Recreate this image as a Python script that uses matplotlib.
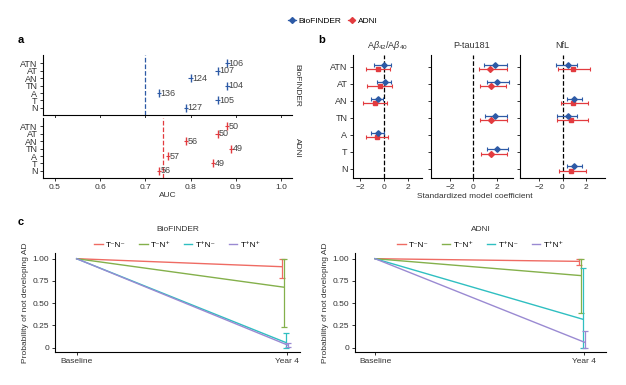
import numpy as np
import matplotlib
matplotlib.use("Agg")
import matplotlib.pyplot as plt
from matplotlib.lines import Line2D

plt.rcParams["font.family"] = ["Liberation Sans", "DejaVu Sans"]
plt.rcParams["font.size"] = 6
plt.rcParams["axes.linewidth"] = 0.8
plt.rcParams["xtick.major.size"] = 2.5
plt.rcParams["ytick.major.size"] = 2.5
plt.rcParams["xtick.color"] = "#333333"
plt.rcParams["ytick.color"] = "#333333"
plt.rcParams["mathtext.fontset"] = "custom"
plt.rcParams["mathtext.rm"] = "Liberation Sans"
plt.rcParams["mathtext.it"] = "Liberation Sans:italic"

W, H = 626, 385
BLUE = "#2d5aa6"
RED = "#e23b3f"
TXT = "#333333"
nan = np.nan

# === panel a : AUC ===
rows = ["ATN", "AT", "AN", "TN", "A", "T", "N"]
auc_bf = [0.881, 0.860, 0.800, 0.881, 0.730, 0.860, 0.790]
n_bf = [106, 107, 124, 104, 136, 105, 127]
auc_adni = [0.880, 0.860, 0.790, 0.890, 0.750, 0.850, 0.730]
n_adni = [50, 50, 56, 49, 57, 49, 56]
ref_bf, ref_adni = 0.70, 0.74

# === panel b : standardized coefficients (estimate, low, high) ===
ab_bf = [0.0, 0.08, -0.52, nan, -0.55, nan, nan]
ab_bf_lo = [-0.88, -0.60, -1.07, nan, -1.07, nan, nan]
ab_bf_hi = [0.58, 0.58, -0.05, nan, 0.0, nan, nan]
ab_adni = [-0.47, -0.38, -0.74, nan, -0.60, nan, nan]
ab_adni_lo = [-1.56, -1.48, -1.78, nan, -1.56, nan, nan]
ab_adni_hi = [0.49, 0.68, 0.27, nan, 0.33, nan, nan]

ptau_bf = [1.79, 2.0, nan, 1.79, nan, 2.0, nan]
ptau_bf_lo = [0.85, 1.15, nan, 1.0, nan, 1.15, nan]
ptau_bf_hi = [2.88, 3.0, nan, 2.85, nan, 2.93, nan]
ptau_adni = [1.41, 1.47, nan, 1.52, nan, 1.52, nan]
ptau_adni_lo = [0.48, 0.53, nan, 0.53, nan, 0.61, nan]
ptau_adni_hi = [2.88, 2.75, nan, 2.88, nan, 2.88, nan]

nfl_bf = [0.45, nan, 1.01, 0.45, nan, nan, 1.01]
nfl_bf_lo = [-0.54, nan, 0.42, -0.48, nan, nan, 0.42]
nfl_bf_hi = [1.21, nan, 1.69, 1.21, nan, nan, 1.69]
nfl_adni = [0.87, nan, 0.93, 0.73, nan, nan, 0.73]
nfl_adni_lo = [-0.39, nan, -0.14, -0.48, nan, nan, -0.28]
nfl_adni_hi = [2.34, nan, 2.14, 2.14, nan, nan, 1.97]

# === panel c : probability of not developing AD ===
groups = ["T\u207bN\u207b", "T\u207bN\u207a", "T\u207aN\u207b", "T\u207aN\u207a"]
group_colors = ["#ef6b63", "#84b04b", "#2fbfc1", "#9a8ad2"]
bf_y4 = [0.91, 0.68, 0.06, 0.03]
bf_lo = [0.78, 0.23, 0.0, 0.01]
bf_hi = [1.0, 1.0, 0.17, 0.05]
adni_y4 = [0.97, 0.81, 0.32, 0.06]
adni_lo = [0.93, 0.39, 0.0, 0.0]
adni_hi = [1.0, 1.0, 0.89, 0.19]

fig = plt.figure(figsize=(W / 100, H / 100), dpi=100)


def ax_px(l, t, r, b):
    return fig.add_axes([l / W, 1 - b / H, (r - l) / W, (b - t) / H])


def clean(ax):
    ax.spines["top"].set_visible(False)
    ax.spines["right"].set_visible(False)
    ax.tick_params(labelsize=6, width=0.7, pad=1.5)


# ───────────────────────────────────────
# a. AUC
# ───────────────────────────────────────
ypos = np.arange(len(rows))[::-1] + 1
for (t, b), auc, ns, ref, col, name, last in [
    ((55, 115), auc_bf, n_bf, ref_bf, BLUE, "BioFINDER", False),
    ((118, 178), auc_adni, n_adni, ref_adni, RED, "ADNI", True),
]:
    ax = ax_px(43, t, 292, b)
    clean(ax)
    ax.errorbar(auc, ypos, xerr=0.005, fmt="|", color=col, ms=6, mew=1.0,
                elinewidth=0.8, capsize=0)
    for x, y, n in zip(auc, ypos, ns):
        ax.text(x + 0.003, y, str(n), va="center", ha="left", fontsize=6.5, color="#444444")
    ax.axvline(ref, color=col, ls="--", lw=0.9)
    ax.set_xlim(0.474, 1.024)
    ax.set_ylim(0.05, 8.1)
    ax.set_yticks(ypos)
    ax.set_yticklabels(rows, fontsize=6.5)
    ax.set_xticks([0.5, 0.6, 0.7, 0.8, 0.9, 1.0])
    if last:
        ax.set_xticklabels(["0.5", "0.6", "0.7", "0.8", "0.9", "1.0"])
        ax.set_xlabel("AUC", fontsize=6, color=TXT, labelpad=1)
    else:
        ax.set_xticklabels([])
    fig.text(297 / W, 1 - (t + b) / 2 / H, name, rotation=270, ha="center", va="center",
             fontsize=6, color=TXT)

# ───────────────────────────────────────
# b. coefficients
# ───────────────────────────────────────
panels_b = [
    ("A$\\beta_{42}$/A$\\beta_{40}$", (353, 422), (-2.62, 3.2),
     ab_bf, ab_bf_lo, ab_bf_hi, ab_adni, ab_adni_lo, ab_adni_hi, "s"),
    ("P-tau181", (431, 513), (-3.6, 3.35),
     ptau_bf, ptau_bf_lo, ptau_bf_hi, ptau_adni, ptau_adni_lo, ptau_adni_hi, "D"),
    ("NfL", (520, 605), (-3.6, 3.6),
     nfl_bf, nfl_bf_lo, nfl_bf_hi, nfl_adni, nfl_adni_lo, nfl_adni_hi, "s"),
]
for i, (title, (l, r), xl, bf, bflo, bfhi, ad, adlo, adhi, rmark) in enumerate(panels_b):
    ax = ax_px(l, 55, r, 178)
    clean(ax)
    bf, bflo, bfhi = map(np.array, (bf, bflo, bfhi))
    ad, adlo, adhi = map(np.array, (ad, adlo, adhi))
    ax.axvline(0, color="black", ls="--", lw=0.9, zorder=1)
    ax.errorbar(ad, ypos - 0.13, xerr=[ad - adlo, adhi - ad], fmt=rmark, color=RED,
                ms=3.5 if rmark == "s" else 3, elinewidth=0.9, capsize=1.5, capthick=0.8, zorder=2)
    ax.errorbar(bf, ypos + 0.13, xerr=[bf - bflo, bfhi - bf], fmt="D", color=BLUE,
                ms=2.8, elinewidth=0.9, capsize=1.5, capthick=0.8, zorder=3)
    ax.set_xlim(*xl)
    ax.set_ylim(0.45, 7.7)
    ax.set_xticks([-2, 0, 2])
    ax.set_xticklabels(["\u22122", "0", "2"])
    ax.set_yticks(ypos)
    if i == 0:
        ax.set_yticklabels(rows, fontsize=6.5)
    else:
        ax.set_yticklabels([])
    ax.set_title(title, fontsize=6.5, color=TXT, pad=5)
fig.text(475 / W, 1 - 197 / H, "Standardized model coefficient", ha="center", va="center",
         fontsize=6, color=TXT)

# top legend
handles = [Line2D([], [], color=BLUE, marker="D", ms=3, lw=0.9),
           Line2D([], [], color=RED, marker="D", ms=3, lw=0.9)]
fig.legend(handles, ["BioFINDER", "ADNI"], loc="center", bbox_to_anchor=(333 / W, 1 - 21 / H),
           ncol=2, frameon=False, fontsize=6, handlelength=0.9, handletextpad=0.3,
           columnspacing=0.8)

# ───────────────────────────────────────
# c. probability curves
# ───────────────────────────────────────
dodge = [-0.022, -0.014, -0.006, 0.004]
for (l, r), xl, title, y4, lo, hi in [
    ((55, 300), (-0.103, 1.063), "BioFINDER", bf_y4, bf_lo, bf_hi),
    ((355, 606), (-0.096, 1.105), "ADNI", adni_y4, adni_lo, adni_hi),
]:
    ax = ax_px(l, 253, r, 352)
    clean(ax)
    for k, (g, c) in enumerate(zip(groups, group_colors)):
        x1 = 1 + dodge[k]
        ax.plot([0, x1], [1.0, y4[k]], color=c, lw=1.0, label=g)
        ax.errorbar([x1], [y4[k]], yerr=[[y4[k] - lo[k]], [hi[k] - y4[k]]], fmt="none",
                    ecolor=c, elinewidth=0.9, capsize=2.5, capthick=0.9)
    ax.set_xlim(*xl)
    ax.set_ylim(-0.048, 1.064)
    ax.set_xticks([0, 1])
    ax.set_xticklabels(["Baseline", "Year 4"])
    ax.set_yticks([0, 0.25, 0.5, 0.75, 1.0])
    ax.set_yticklabels(["0", "0.25", "0.50", "0.75", "1.00"])
    ax.set_ylabel("Probability of not developing AD", fontsize=6, color=TXT, labelpad=3)
    ax.set_title(title, fontsize=6, color=TXT, pad=16)
    ax.legend(loc="lower center", bbox_to_anchor=(0.5, 0.98), ncol=4, frameon=False,
              fontsize=6, handlelength=1.0, handletextpad=0.4, columnspacing=1.6,
              borderaxespad=0.3)

# panel letters
for s, x, y in [("a", 18, 40), ("b", 318, 40), ("c", 18, 222)]:
    fig.text(x / W, 1 - y / H, s, fontsize=8, fontweight="bold", ha="left", va="center")

fig.savefig("out.png", dpi=100)
